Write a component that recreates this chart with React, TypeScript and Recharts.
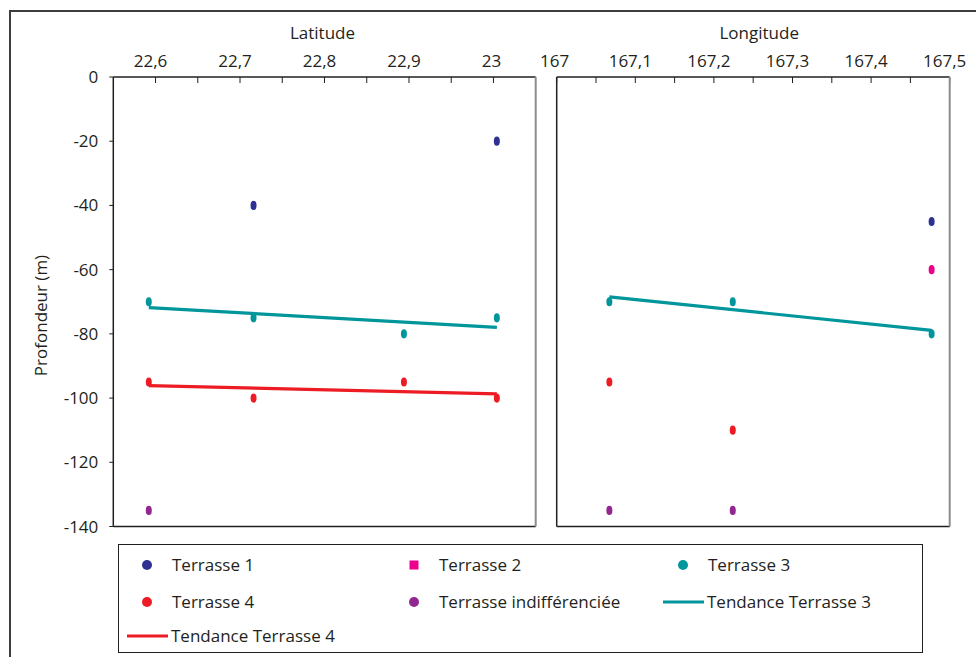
import React from "react";
import { ComposedChart, Scatter, XAxis, YAxis, Legend } from "recharts";

const FONT = "'Open Sans', sans-serif";
const INK = "#231F20";
const EDGE = "#8C8C8C";

const C_T1 = "#2E3192";
const C_T2 = "#EC008C";
const C_T3 = "#00969B";
const C_T4 = "#ED1C24";
const C_IND = "#92278F";

// axes
const depthTicks = [0, -20, -40, -60, -80, -100, -120, -140];
const depthDomain = [-140, 0];
const latDomain = [22.55, 23.05];
const latTicks = [22.6, 22.65, 22.7, 22.75, 22.8, 22.85, 22.9, 22.95, 23];
const lonDomain = [167, 167.5];
const lonTicks = [167, 167.05, 167.1, 167.15, 167.2, 167.25, 167.3, 167.35, 167.4, 167.45, 167.5];

// latitude panel
const latTerrasse1 = [
  { x: 22.716, y: -40 },
  { x: 23.004, y: -20 },
];
const latTerrasse3 = [
  { x: 22.592, y: -70 },
  { x: 22.716, y: -75 },
  { x: 22.894, y: -80 },
  { x: 23.004, y: -75 },
];
const latTerrasse4 = [
  { x: 22.592, y: -95 },
  { x: 22.716, y: -100 },
  { x: 22.894, y: -95 },
  { x: 23.004, y: -100 },
];
const latIndiff = [{ x: 22.592, y: -135 }];
const latTrend3 = [
  { x: 22.592, y: -71.8 },
  { x: 23.004, y: -78.0 },
];
const latTrend4 = [
  { x: 22.592, y: -96.1 },
  { x: 23.004, y: -98.7 },
];

// longitude panel
const lonTerrasse1 = [{ x: 167.477, y: -45 }];
const lonTerrasse2 = [{ x: 167.477, y: -60 }];
const lonTerrasse3 = [
  { x: 167.067, y: -70 },
  { x: 167.224, y: -70 },
  { x: 167.477, y: -80 },
];
const lonTerrasse4 = [
  { x: 167.067, y: -95 },
  { x: 167.224, y: -110 },
];
const lonIndiff = [
  { x: 167.067, y: -135 },
  { x: 167.224, y: -135 },
];
const lonTrend3 = [
  { x: 167.067, y: -68.5 },
  { x: 167.477, y: -78.9 },
];

// legend
const legendNames = [
  "Terrasse 1",
  "Terrasse 2",
  "Terrasse 3",
  "Terrasse 4",
  "Terrasse indifférenciée",
  "Tendance Terrasse 3",
  "Tendance Terrasse 4",
];
const legendKinds = ["dot", "square", "dot", "dot", "dot", "line", "line"];
const legendColors = [C_T1, C_T2, C_T3, C_T4, C_IND, C_T3, C_T4];

const fmtTick = (v: number) =>
  Math.abs(v * 10 - Math.round(v * 10)) < 1e-6 ? String(v).replace(".", ",") : "";

// labels on the top axes sit a little left of their tick, like the source
const TopTick = (p: any) => {
  const label = fmtTick(p.payload.value);
  if (!label) return <g />;
  const shift = label.includes(",") ? -5 : -2;
  return (
    <text
      x={p.x + shift}
      y={p.y}
      textAnchor="middle"
      fill={INK}
      fontSize={17}
      fontFamily={FONT}
    >
      {label}
    </text>
  );
};

const dot = (color: string) => (p: any) =>
  <ellipse cx={p.cx} cy={p.cy} rx={3} ry={4.6} fill={color} />;

const noShape = () => <g />;

const tickStyle = { fill: INK, fontSize: 17, fontFamily: FONT };

function LegendBox() {
  const markX = [28, 295, 564];
  const textX = [53, 320, 589];
  const rowY = [20, 57, 91];
  return (
    <div
      style={{
        position: "relative",
        width: 805,
        height: 109,
        boxSizing: "border-box",
        border: `1.5px solid ${INK}`,
        fontFamily: FONT,
        fontSize: 17,
        color: INK,
      }}
    >
      {legendNames.map((name, i) => {
        const col = i % 3;
        const row = Math.floor(i / 3);
        const cy = rowY[row];
        const kind = legendKinds[i];
        const color = legendColors[i];
        return (
          <React.Fragment key={name}>
            <svg
              width={60}
              height={20}
              style={{ position: "absolute", left: markX[col] - 30, top: cy - 10 }}
            >
              {kind === "dot" && <circle cx={30} cy={10} r={5} fill={color} />}
              {kind === "square" && <rect x={25.5} y={5.5} width={9} height={9} fill={color} />}
              {kind === "line" && (
                <line x1={10} x2={51} y1={10} y2={10} stroke={color} strokeWidth={3} />
              )}
            </svg>
            <div
              style={{
                position: "absolute",
                left: textX[col] - (kind === "line" ? 1 : 0),
                top: cy - 12,
                lineHeight: "24px",
                whiteSpace: "nowrap",
              }}
            >
              {name}
            </div>
          </React.Fragment>
        );
      })}
    </div>
  );
}

export default function App() {
  return (
    <div
      style={{
        position: "absolute",
        left: 0,
        top: 0,
        width: 976,
        height: 657,
        overflow: "hidden",
        background: "#fff",
        fontFamily: FONT,
      }}
    >
      <div
        style={{
          position: "absolute",
          left: 9,
          top: 10,
          width: 1200,
          height: 900,
          borderLeft: "2px solid #3d3d3d",
          borderTop: "2px solid #3d3d3d",
        }}
      />

      {/* Latitude panel */}
      <div style={{ position: "absolute", left: 0, top: 0 }}>
        <ComposedChart
          width={545}
          height={545}
          margin={{ top: 17, right: 8.3, bottom: 17.5, left: 0 }}
        >
          <XAxis
            xAxisId="top"
            orientation="top"
            type="number"
            dataKey="x"
            domain={latDomain}
            ticks={latTicks}
            interval={0}
            allowDataOverflow
            tickSize={-6}
            tickMargin={16.3}
            height={60}
            axisLine={{ stroke: INK, strokeWidth: 1.5 }}
            tickLine={{ stroke: INK, strokeWidth: 1 }}
            tick={TopTick}
            label={{
              content: ({ viewBox }: any) => (
                <text
                  x={viewBox.x + viewBox.width / 2 - 2}
                  y={39}
                  textAnchor="middle"
                  fill={INK}
                  fontSize={17}
                  fontFamily={FONT}
                >
                  Latitude
                </text>
              ),
            }}
          />
          <XAxis
            xAxisId="bottom"
            orientation="bottom"
            type="number"
            dataKey="x"
            domain={latDomain}
            allowDataOverflow
            height={1}
            tick={false}
            tickLine={false}
            axisLine={{ stroke: INK, strokeWidth: 1.5 }}
          />
          <YAxis
            yAxisId="left"
            type="number"
            dataKey="y"
            domain={depthDomain}
            allowDataOverflow
            ticks={depthTicks}
            interval={0}
            width={113.3}
            tickSize={4}
            tickMargin={11}
            axisLine={{ stroke: INK, strokeWidth: 1.5 }}
            tickLine={{ stroke: INK, strokeWidth: 1 }}
            tick={tickStyle}
            label={{
              content: () => (
                <text
                  x={40}
                  y={315.5}
                  transform="rotate(-90 40 315.5)"
                  textAnchor="middle"
                  dominantBaseline="central"
                  fill={INK}
                  fontSize={17}
                  fontFamily={FONT}
                >
                  Profondeur (m)
                </text>
              ),
            }}
          />
          <YAxis
            yAxisId="right"
            orientation="right"
            type="number"
            dataKey="y"
            domain={depthDomain}
            allowDataOverflow
            width={1}
            tick={false}
            tickLine={false}
            axisLine={{ stroke: EDGE, strokeWidth: 2 }}
          />
          <Scatter name="Terrasse 1" data={latTerrasse1} xAxisId="top" yAxisId="left" fill={C_T1} shape={dot(C_T1)} isAnimationActive={false} />
          <Scatter name="Terrasse 3" data={latTerrasse3} xAxisId="top" yAxisId="left" fill={C_T3} shape={dot(C_T3)} isAnimationActive={false} />
          <Scatter name="Terrasse 4" data={latTerrasse4} xAxisId="top" yAxisId="left" fill={C_T4} shape={dot(C_T4)} isAnimationActive={false} />
          <Scatter name="Terrasse indifférenciée" data={latIndiff} xAxisId="top" yAxisId="left" fill={C_IND} shape={dot(C_IND)} isAnimationActive={false} />
          <Scatter
            name="Tendance Terrasse 3"
            data={latTrend3}
            xAxisId="top"
            yAxisId="left"
            fill={C_T3}
            line={{ stroke: C_T3, strokeWidth: 3.2 }}
            shape={noShape}
            isAnimationActive={false}
          />
          <Scatter
            name="Tendance Terrasse 4"
            data={latTrend4}
            xAxisId="top"
            yAxisId="left"
            fill={C_T4}
            line={{ stroke: C_T4, strokeWidth: 3.2 }}
            shape={noShape}
            isAnimationActive={false}
          />
          {/* invisible anchor so the frame axes get data */}
          <Scatter data={latTrend3} xAxisId="bottom" yAxisId="right" fill="none" shape={noShape} legendType="none" isAnimationActive={false} />
          <Legend
            layout="horizontal"
            verticalAlign="middle"
            align="center"
            wrapperStyle={{ position: "absolute", left: 118, top: 544, width: 805, height: 109, margin: 0 }}
            content={() => <LegendBox />}
          />
        </ComposedChart>
      </div>

      {/* Longitude panel */}
      <div style={{ position: "absolute", left: 540, top: 0 }}>
        <ComposedChart
          width={436}
          height={545}
          margin={{ top: 17, right: 25.3, bottom: 17.5, left: 0 }}
        >
          <XAxis
            xAxisId="top"
            orientation="top"
            type="number"
            dataKey="x"
            domain={lonDomain}
            ticks={lonTicks}
            interval={0}
            allowDataOverflow
            tickSize={-6}
            tickMargin={16.3}
            height={60}
            axisLine={{ stroke: INK, strokeWidth: 1.5 }}
            tickLine={{ stroke: INK, strokeWidth: 1 }}
            tick={TopTick}
            label={{
              content: ({ viewBox }: any) => (
                <text
                  x={viewBox.x + viewBox.width / 2 + 6}
                  y={39}
                  textAnchor="middle"
                  fill={INK}
                  fontSize={17}
                  fontFamily={FONT}
                >
                  Longitude
                </text>
              ),
            }}
          />
          <XAxis
            xAxisId="bottom"
            orientation="bottom"
            type="number"
            dataKey="x"
            domain={lonDomain}
            allowDataOverflow
            height={1}
            tick={false}
            tickLine={false}
            axisLine={{ stroke: INK, strokeWidth: 1.5 }}
          />
          <YAxis
            yAxisId="left"
            type="number"
            dataKey="y"
            domain={depthDomain}
            allowDataOverflow
            ticks={depthTicks}
            interval={0}
            width={16.7}
            tickSize={4}
            tick={false}
            axisLine={{ stroke: INK, strokeWidth: 1.5 }}
            tickLine={{ stroke: INK, strokeWidth: 1 }}
          />
          <YAxis
            yAxisId="right"
            orientation="right"
            type="number"
            dataKey="y"
            domain={depthDomain}
            allowDataOverflow
            width={1}
            tick={false}
            tickLine={false}
            axisLine={{ stroke: EDGE, strokeWidth: 2 }}
          />
          <Scatter name="Terrasse 1" data={lonTerrasse1} xAxisId="top" yAxisId="left" fill={C_T1} shape={dot(C_T1)} isAnimationActive={false} />
          <Scatter name="Terrasse 2" data={lonTerrasse2} xAxisId="top" yAxisId="left" fill={C_T2} shape={dot(C_T2)} isAnimationActive={false} />
          <Scatter name="Terrasse 3" data={lonTerrasse3} xAxisId="top" yAxisId="left" fill={C_T3} shape={dot(C_T3)} isAnimationActive={false} />
          <Scatter name="Terrasse 4" data={lonTerrasse4} xAxisId="top" yAxisId="left" fill={C_T4} shape={dot(C_T4)} isAnimationActive={false} />
          <Scatter name="Terrasse indifférenciée" data={lonIndiff} xAxisId="top" yAxisId="left" fill={C_IND} shape={dot(C_IND)} isAnimationActive={false} />
          <Scatter
            name="Tendance Terrasse 3"
            data={lonTrend3}
            xAxisId="top"
            yAxisId="left"
            fill={C_T3}
            line={{ stroke: C_T3, strokeWidth: 3.2 }}
            shape={noShape}
            isAnimationActive={false}
          />
          <Scatter data={lonTrend3} xAxisId="bottom" yAxisId="right" fill="none" shape={noShape} legendType="none" isAnimationActive={false} />
        </ComposedChart>
      </div>
    </div>
  );
}
